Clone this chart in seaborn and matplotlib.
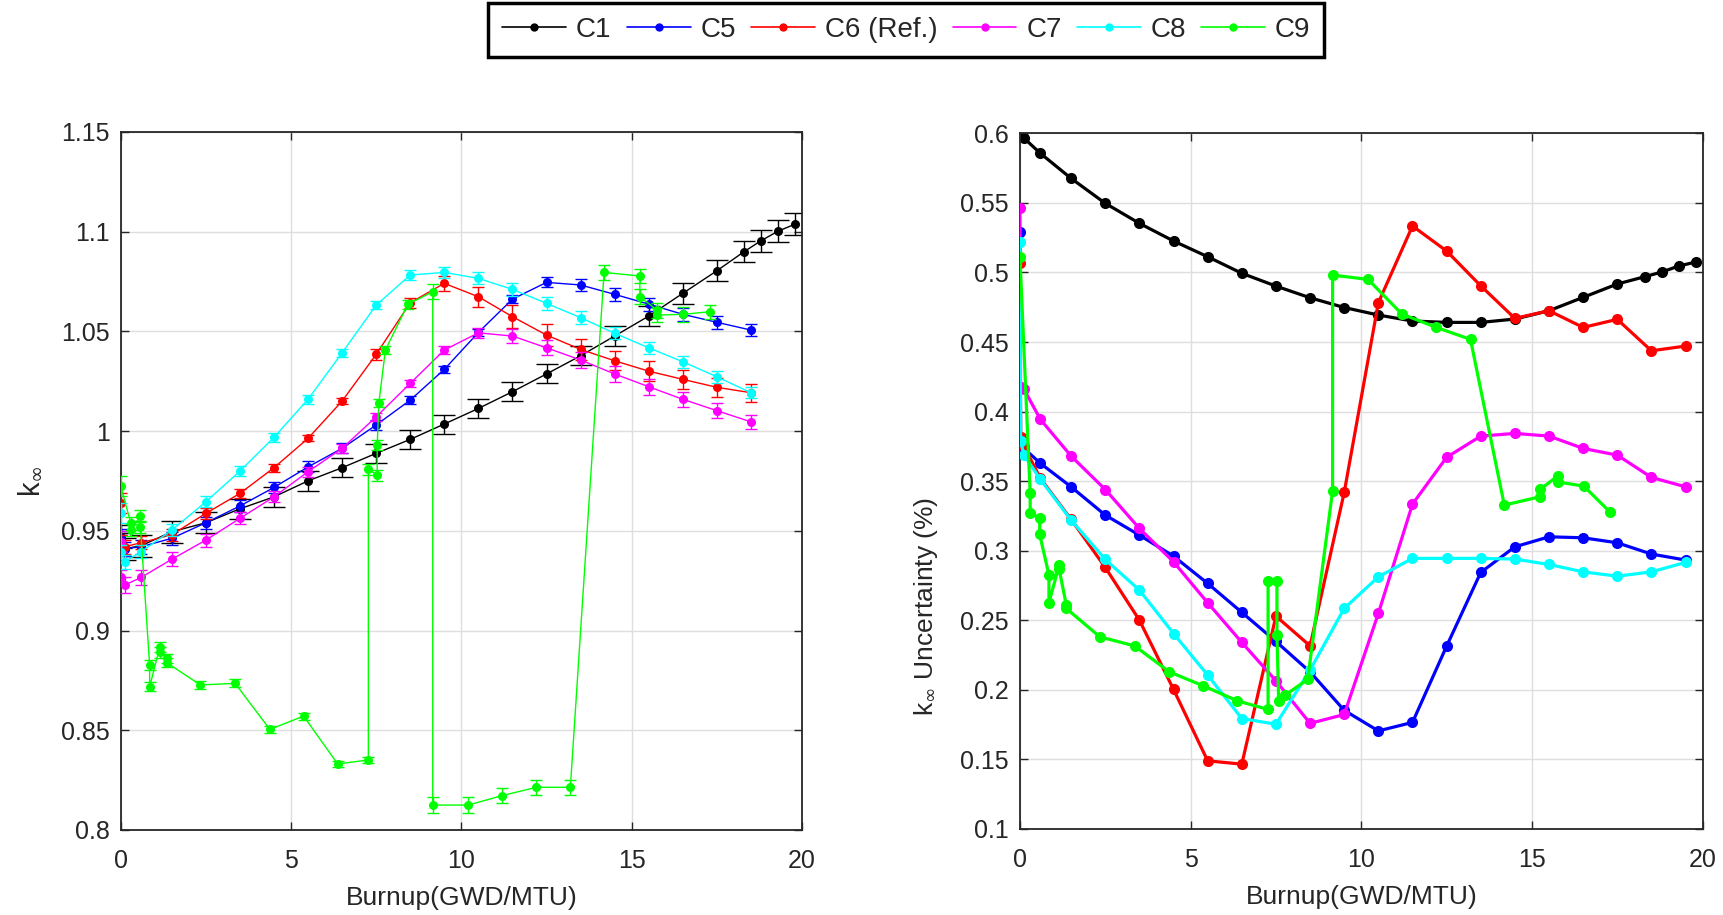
import numpy as np
import pandas as pd
import matplotlib
matplotlib.use("Agg")
import matplotlib.pyplot as plt
import seaborn as sns
from matplotlib.lines import Line2D

# ---------------- data ----------------
series_names = ["C1", "C5", "C6 (Ref.)", "C7", "C8", "C9"]
series_colors = ["#000000", "#0000ff", "#ff0000", "#ff00ff", "#00ffff", "#00ff00"]

burnup_c1 = [0, 0.02, 0.12, 0.6, 1.5, 2.5, 3.5, 4.5, 5.5, 6.5, 7.5, 8.5, 9.5, 10.5,
             11.5, 12.5, 13.5, 14.5, 15.5, 16.5, 17.5, 18.3, 18.8, 19.3, 19.8]
k_c1 = [0.947, 0.943, 0.941, 0.9425, 0.9495, 0.954, 0.961, 0.967, 0.975, 0.9816,
        0.9888, 0.9958, 1.0035, 1.0113, 1.0197, 1.0286, 1.0377, 1.0476, 1.0576,
        1.069, 1.0803, 1.0899, 1.0954, 1.1002, 1.1037]
unc_c1 = [0.598, 0.598, 0.5965, 0.5856, 0.5676, 0.5497, 0.5353, 0.5226, 0.5113,
          0.4994, 0.4902, 0.4818, 0.4748, 0.4694, 0.4651, 0.4641, 0.4641, 0.4665,
          0.4725, 0.4821, 0.4917, 0.4969, 0.5003, 0.5046, 0.5075]

# common burnup steps of C5-C8 (k_inf stops at 18.5, uncertainty at 19.5)
burnup_std = [0, 0.02, 0.12, 0.6, 1.5, 2.5, 3.5, 4.5, 5.5, 6.5, 7.5, 8.5, 9.5,
              10.5, 11.5, 12.5, 13.5, 14.5, 15.5, 16.5, 17.5, 18.5, 19.5]

k_c5 = [0.946, 0.9445, 0.941, 0.942, 0.9462, 0.954, 0.9624, 0.9717, 0.982, 0.9913,
        1.003, 1.0155, 1.0309, 1.0494, 1.0661, 1.0745, 1.0732, 1.0685, 1.0636,
        1.0585, 1.0545, 1.0506]
unc_c5 = [0.5288, 0.378, 0.3735, 0.3628, 0.3459, 0.3256, 0.3112, 0.2961, 0.2765,
          0.2557, 0.2348, 0.2129, 0.1853, 0.1705, 0.1766, 0.2314, 0.2844, 0.3028,
          0.31, 0.3093, 0.3057, 0.2976, 0.2933]

k_c6 = [0.964, 0.9445, 0.942, 0.944, 0.948, 0.9587, 0.9687, 0.9816, 0.9963, 1.015,
        1.0384, 1.0643, 1.074, 1.0673, 1.0573, 1.0481, 1.0409, 1.0352, 1.03,
        1.0259, 1.0219, 1.0192]
unc_c6 = [0.507, 0.3815, 0.375, 0.352, 0.3225, 0.288, 0.2501, 0.2003, 0.149,
          0.1466, 0.253, 0.2316, 0.3419, 0.4782, 0.5334, 0.5154, 0.4904, 0.467,
          0.4725, 0.4605, 0.4663, 0.4437, 0.4471]

k_c7 = [0.9446, 0.9266, 0.9228, 0.9266, 0.9357, 0.9453, 0.9562, 0.967, 0.9796,
        0.9913, 1.0071, 1.0239, 1.0406, 1.0492, 1.0476, 1.0417, 1.0356, 1.0286,
        1.0222, 1.0159, 1.0102, 1.0046]
unc_c7 = [0.546, 0.4178, 0.416, 0.3944, 0.368, 0.344, 0.316, 0.292, 0.2626, 0.2341,
          0.2065, 0.1759, 0.1823, 0.2549, 0.3335, 0.3671, 0.3824, 0.3843, 0.3824,
          0.3735, 0.3687, 0.3527, 0.3459]

k_c8 = [0.9587, 0.9395, 0.9345, 0.9395, 0.9503, 0.9645, 0.9799, 0.9968, 1.0159,
        1.0392, 1.0631, 1.0782, 1.0795, 1.0765, 1.071, 1.064, 1.0568, 1.049,
        1.0417, 1.0347, 1.0272, 1.0192]
unc_c8 = [0.5221, 0.379, 0.3687, 0.3513, 0.322, 0.2937, 0.2717, 0.2405, 0.2106,
          0.1794, 0.1753, 0.2142, 0.2585, 0.2812, 0.2945, 0.2945, 0.2945, 0.294,
          0.2901, 0.2848, 0.2817, 0.2848, 0.2916]

burnup_c9 = [0, 0.3, 0.3, 0.58, 0.58, 0.85, 0.85, 1.15, 1.15, 1.36, 1.36, 2.34,
             3.36, 4.38, 5.37, 6.37, 7.27, 7.27, 7.53, 7.53, 7.58, 7.77, 8.43,
             9.16, 9.16, 10.2, 11.19, 12.2, 13.2, 14.19, 15.24, 15.24, 15.75,
             15.75, 16.52, 17.3]
k_c9 = [0.9724, 0.9537, 0.9503, 0.9574, 0.952, 0.8827, 0.8718, 0.8919, 0.889,
        0.886, 0.8838, 0.8727, 0.8735, 0.8504, 0.8571, 0.8331, 0.8351, 0.9808,
        0.9779, 0.993, 1.0142, 1.0406, 1.0635, 1.0698, 0.8125, 0.8125, 0.8172,
        0.8214, 0.8214, 1.0795, 1.0777, 1.0673, 1.0606, 1.0581, 1.0585, 1.0598]
unc_c9 = [0.5113, 0.3416, 0.3268, 0.3237, 0.3117, 0.2825, 0.2626, 0.2896, 0.2866,
          0.2609, 0.2585, 0.2381, 0.2316, 0.2129, 0.2029, 0.1921, 0.1859, 0.2784,
          0.2784, 0.2393, 0.1921, 0.1962, 0.2075, 0.343, 0.4981, 0.495, 0.4701,
          0.4605, 0.4519, 0.3328, 0.3388, 0.3441, 0.3536, 0.3495, 0.3464, 0.3275]

xticks = [0, 5, 10, 15, 20]
k_ticks = [0.8, 0.85, 0.9, 0.95, 1.0, 1.05, 1.1, 1.15]
k_ticklabels = ["0.8", "0.85", "0.9", "0.95", "1", "1.05", "1.1", "1.15"]
unc_ticks = [0.1, 0.15, 0.2, 0.25, 0.3, 0.35, 0.4, 0.45, 0.5, 0.55, 0.6]
unc_ticklabels = ["0.1", "0.15", "0.2", "0.25", "0.3", "0.35", "0.4", "0.45",
                  "0.5", "0.55", "0.6"]

series = [
    (burnup_c1, k_c1, burnup_c1, unc_c1),
    (burnup_std, k_c5, burnup_std, unc_c5),
    (burnup_std, k_c6, burnup_std, unc_c6),
    (burnup_std, k_c7, burnup_std, unc_c7),
    (burnup_std, k_c8, burnup_std, unc_c8),
    (burnup_c9, k_c9, burnup_c9, unc_c9),
]

# ---------------- styling ----------------
sns.set_theme(style="ticks")
plt.rcParams["font.family"] = ["Liberation Sans", "DejaVu Sans"]
plt.rcParams["mathtext.fontset"] = "dejavusans"
axis_col = "#262626"
plt.rcParams.update({
    "axes.edgecolor": axis_col, "axes.linewidth": 1.3,
    "xtick.color": axis_col, "ytick.color": axis_col,
    "xtick.labelcolor": axis_col, "ytick.labelcolor": axis_col,
    "xtick.direction": "in", "ytick.direction": "in",
    "xtick.top": True, "ytick.right": True,
    "xtick.major.size": 6, "ytick.major.size": 6,
    "xtick.major.width": 1.0, "ytick.major.width": 1.0,
})

fig = plt.figure(figsize=(17.24, 9.15), dpi=100)
axL = fig.add_axes([0.0700, 0.0929, 0.3952, 0.7631])
axR = fig.add_axes([0.5916, 0.0940, 0.3960, 0.7603])

for i, (name, col) in enumerate(zip(series_names, series_colors)):
    xk, k, xu, u = series[i]
    n = len(k)
    xk = np.asarray(xk[:n], float)
    k = np.asarray(k, float)
    u = np.asarray(u, float)
    yerr = k * u[:n] / 100.0
    dfk = pd.DataFrame({"burnup": xk, "k": k})
    sns.lineplot(data=dfk, x="burnup", y="k", ax=axL, color=col, estimator=None,
                 sort=False, marker="o", markersize=6.5, markeredgewidth=0,
                 linewidth=1.0, zorder=2 + i)
    axL.errorbar(xk, k, yerr=yerr, fmt="none", ecolor=col, elinewidth=1.0,
                 capsize=8 if i == 0 else 4.5, capthick=1.0, zorder=2 + i)
    dfu = pd.DataFrame({"burnup": np.asarray(xu, float), "unc": u})
    sns.lineplot(data=dfu, x="burnup", y="unc", ax=axR, color=col, estimator=None,
                 sort=False, marker="o", markersize=8, markeredgewidth=0,
                 linewidth=2.3, zorder=2 + i)

for ax in (axL, axR):
    ax.set_xlim(0, 20)
    ax.set_xticks(xticks)
    ax.set_xticklabels([str(t) for t in xticks])
    ax.grid(True, color="#dedede", linewidth=1.0)
    ax.set_axisbelow(True)
    ax.tick_params(labelsize=18)
    ax.tick_params(axis="y", pad=8)
    ax.tick_params(axis="x", pad=14)
    ax.set_xlabel("Burnup(GWD/MTU)", fontsize=19, color=axis_col, labelpad=9)
    for s in ax.spines.values():
        s.set_visible(True)

axL.set_ylim(0.8, 1.15)
axL.set_yticks(k_ticks)
axL.set_yticklabels(k_ticklabels)
axL.set_ylabel(r"k$_{\infty}$", fontsize=21, color=axis_col, labelpad=12)

axR.set_ylim(0.1, 0.6)
axR.set_yticks(unc_ticks)
axR.set_yticklabels(unc_ticklabels)
axR.set_ylabel(r"k$_{\infty}$ Uncertainty (%)", fontsize=19, color=axis_col)
axR.yaxis.set_label_coords(-0.117, 0.32)

handles = [Line2D([0], [0], color=c, lw=1.2, marker="o", markersize=6,
                  markeredgewidth=0) for c in series_colors]
leg = fig.legend(handles, series_names, loc="center", ncol=6,
                 bbox_to_anchor=(0.5257, 0.967), fontsize=20, frameon=True,
                 fancybox=False, edgecolor="black", framealpha=1,
                 handlelength=2.3, handletextpad=0.35, columnspacing=0.55,
                 borderpad=0.5)
leg.get_frame().set_linewidth(2.5)

fig.savefig("out.png", dpi=100, facecolor="white")
